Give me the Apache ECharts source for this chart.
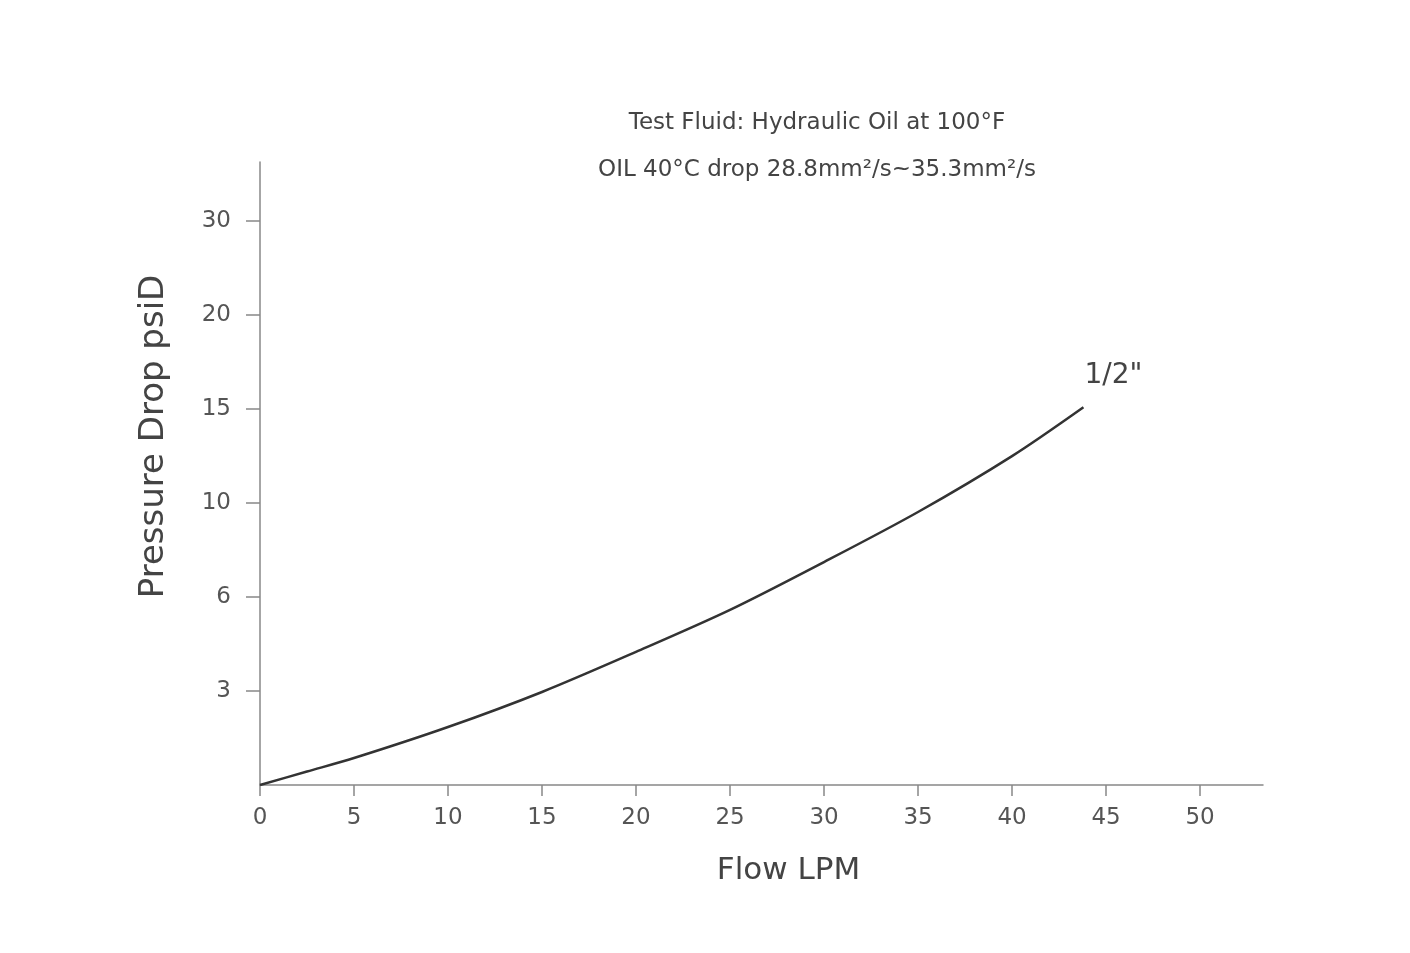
<!DOCTYPE html>
<html>
<head>
<meta charset="utf-8">
<script src="https://cdn.jsdelivr.net/npm/echarts@6/dist/echarts.min.js"></script>
<style>html,body{margin:0;padding:0;background:#fff;}#c{width:1410px;height:953px;}</style>
</head>
<body>
<div id="c"></div>
<script>
// Flow (LPM) and pressure drop (psiD)
var flowLPM = [0, 2.5, 5, 10, 15, 20, 25, 30, 35, 40, 43.8];
var pressurePsi = [0, 0.43, 0.86, 1.85, 2.97, 4.25, 5.59, 7.49, 9.62, 12.5, 15.1];
// y-axis tick labels are evenly spaced but not linear
var yTickValues = [0, 3, 6, 10, 15, 20, 30];
var yTickLabels = ['', '3', '6', '10', '15', '20', '30'];
var xTickValues = [0, 5, 10, 15, 20, 25, 30, 35, 40, 45, 50];
var seriesName = '1/2"';
var titleLines = ['Test Fluid: Hydraulic Oil at 100\u00B0F', 'OIL 40\u00B0C drop 28.8mm\u00B2/s~35.3mm\u00B2/s'];

// map psi to the evenly spaced tick index (piecewise linear scale of the chart)
function psiToPos(v) {
  for (var i = 1; i < yTickValues.length; i++) {
    if (v <= yTickValues[i]) {
      return (i - 1) + (v - yTickValues[i - 1]) / (yTickValues[i] - yTickValues[i - 1]);
    }
  }
  return yTickValues.length - 1;
}
var data = flowLPM.map(function (x, i) { return [x, psiToPos(pressurePsi[i])]; });

var font = 'DejaVu Sans';
var chart = echarts.init(document.getElementById('c'), null, { renderer: 'canvas' });
chart.setOption({
  backgroundColor: '#fff',
  animation: false,
  title: [
    { text: titleLines[0], left: 812, top: 107, textAlign: 'center',
      textStyle: { fontFamily: font, fontSize: 23, fontWeight: 'normal', color: '#444' } },
    { text: titleLines[1], left: 812, top: 154, textAlign: 'center',
      textStyle: { fontFamily: font, fontSize: 23, fontWeight: 'normal', color: '#444' } }
  ],
  grid: { left: 260, right: 147, top: 162, bottom: 168, containLabel: false },
  xAxis: {
    type: 'value', min: 0, max: 53.35, interval: 5,
    name: 'Flow LPM', nameLocation: 'middle', nameGap: 70,
    nameTextStyle: { fontFamily: font, fontSize: 31, color: '#444', padding: [0, 0, 0, 54] },
    axisLine: { show: true, lineStyle: { color: '#888', width: 1.5 } },
    axisTick: { show: true, inside: false, length: 11, customValues: xTickValues, lineStyle: { color: '#888', width: 1.5 } },
    axisLabel: { customValues: xTickValues, margin: 22, fontFamily: font, fontSize: 23, color: '#555' },
    splitLine: { show: false }
  },
  yAxis: {
    type: 'value', min: 0, max: 6.63, interval: 1,
    name: 'Pressure Drop psiD', nameLocation: 'middle', nameGap: 89,
    nameTextStyle: { fontFamily: font, fontSize: 34, color: '#444', padding: [0, 0, 0, 74] },
    axisLine: { show: true, lineStyle: { color: '#888', width: 1.5 } },
    axisTick: { show: true, length: 14, customValues: [1, 2, 3, 4, 5, 6], lineStyle: { color: '#888', width: 1.5 } },
    axisLabel: {
      customValues: [1, 2, 3, 4, 5, 6], margin: 29, fontFamily: font, fontSize: 23, color: '#555',
      formatter: function (v) { return yTickLabels[Math.round(v)] || ''; }
    },
    splitLine: { show: false }
  },
  series: [{
    type: 'line', name: seriesName, data: data, smooth: 0.3, showSymbol: false, symbol: 'none',
    lineStyle: { color: '#333', width: 2.5 },
    endLabel: {
      show: true, formatter: seriesName, distance: 0, offset: [1, -32],
      fontFamily: font, fontSize: 28, color: '#444'
    }
  }]
});
</script>
</body>
</html>
